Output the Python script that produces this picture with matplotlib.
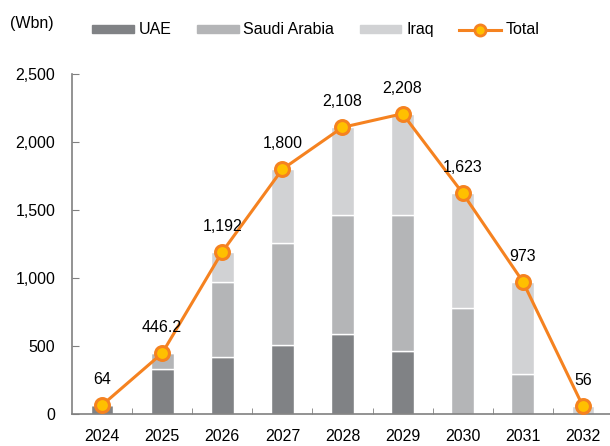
import numpy as np
from matplotlib import pyplot as plt
from matplotlib.patches import Patch
from matplotlib.lines import Line2D

plt.rcParams['font.family'] = ['Liberation Sans', 'DejaVu Sans']

# Data (Wbn)
years = ['2024', '2025', '2026', '2027', '2028', '2029', '2030', '2031', '2032']
uae = [64, 330, 419, 510, 591, 461, 0, 0, 0]
saudi = [0, 116.2, 548, 745, 871, 1005, 778, 294, 0]
iraq = [0, 0, 225, 545, 646, 742, 845, 679, 56]
total = [64, 446.2, 1192, 1800, 2108, 2208, 1623, 973, 56]
total_labels = ['64', '446.2', '1,192', '1,800', '2,108', '2,208', '1,623', '973', '56']

c_uae = '#808285'
c_saudi = '#b4b5b7'
c_iraq = '#d1d2d4'
c_line = '#f58220'
c_face = '#ffc000'
c_axis = '#808080'

fig = plt.figure(figsize=(6.1, 4.46), dpi=100)
ax = fig.add_axes([0.118, 0.072, 0.882, 0.762])

x = np.arange(len(years))
w = 0.38
kw = dict(width=w, edgecolor='white', linewidth=1.0, zorder=2)
ax.bar(x, uae, color=c_uae, **kw)
ax.bar(x, saudi, bottom=uae, color=c_saudi, **kw)
bot = np.array(uae) + np.array(saudi)
ax.bar(x, iraq, bottom=bot, color=c_iraq, **kw)

ax.plot(x, total, color=c_line, lw=2.2, marker='o', ms=10,
        mfc=c_face, mec=c_line, mew=2.2, zorder=3)
for xi, v, s in zip(x, total, total_labels):
    ax.annotate(s, (xi, v), xytext=(0, 13), textcoords='offset points',
                ha='center', va='bottom', fontsize=11.5)

ax.set_ylim(0, 2500)
ax.set_xlim(-0.5, 8.45)
ax.set_yticks([0, 500, 1000, 1500, 2000, 2500])
ax.set_yticklabels(['0', '500', '1,000', '1,500', '2,000', '2,500'], fontsize=11.5)
ax.set_xticks(x)
ax.set_xticklabels(years, fontsize=11.5)
ax.set_xticks(np.arange(0.5, 8, 1), minor=True)
ax.tick_params(axis='x', which='major', length=0, pad=11)
ax.tick_params(axis='x', which='minor', direction='in', length=4, color=c_axis)
ax.tick_params(axis='y', direction='in', length=5, color=c_axis, pad=12)

for s in ['top', 'right']:
    ax.spines[s].set_visible(False)
for s in ['left', 'bottom']:
    ax.spines[s].set_color(c_axis)
    ax.spines[s].set_linewidth(1.2)

fig.text(0.016, 0.948, '(Wbn)', fontsize=11.5, va='center')

handles = [Patch(color=c_uae, label='UAE'),
           Patch(color=c_saudi, label='Saudi Arabia'),
           Patch(color=c_iraq, label='Iraq'),
           Line2D([0], [0], color=c_line, lw=2.2, marker='o', ms=8,
                  mfc=c_face, mec=c_line, mew=2, label='Total')]
fig.legend(handles=handles, loc='center', bbox_to_anchor=(0.518, 0.933), ncol=4,
           frameon=False, fontsize=11.5, handlelength=2.6, handleheight=0.4,
           handletextpad=0.3, columnspacing=1.6)

fig.savefig('out.png', dpi=100)
